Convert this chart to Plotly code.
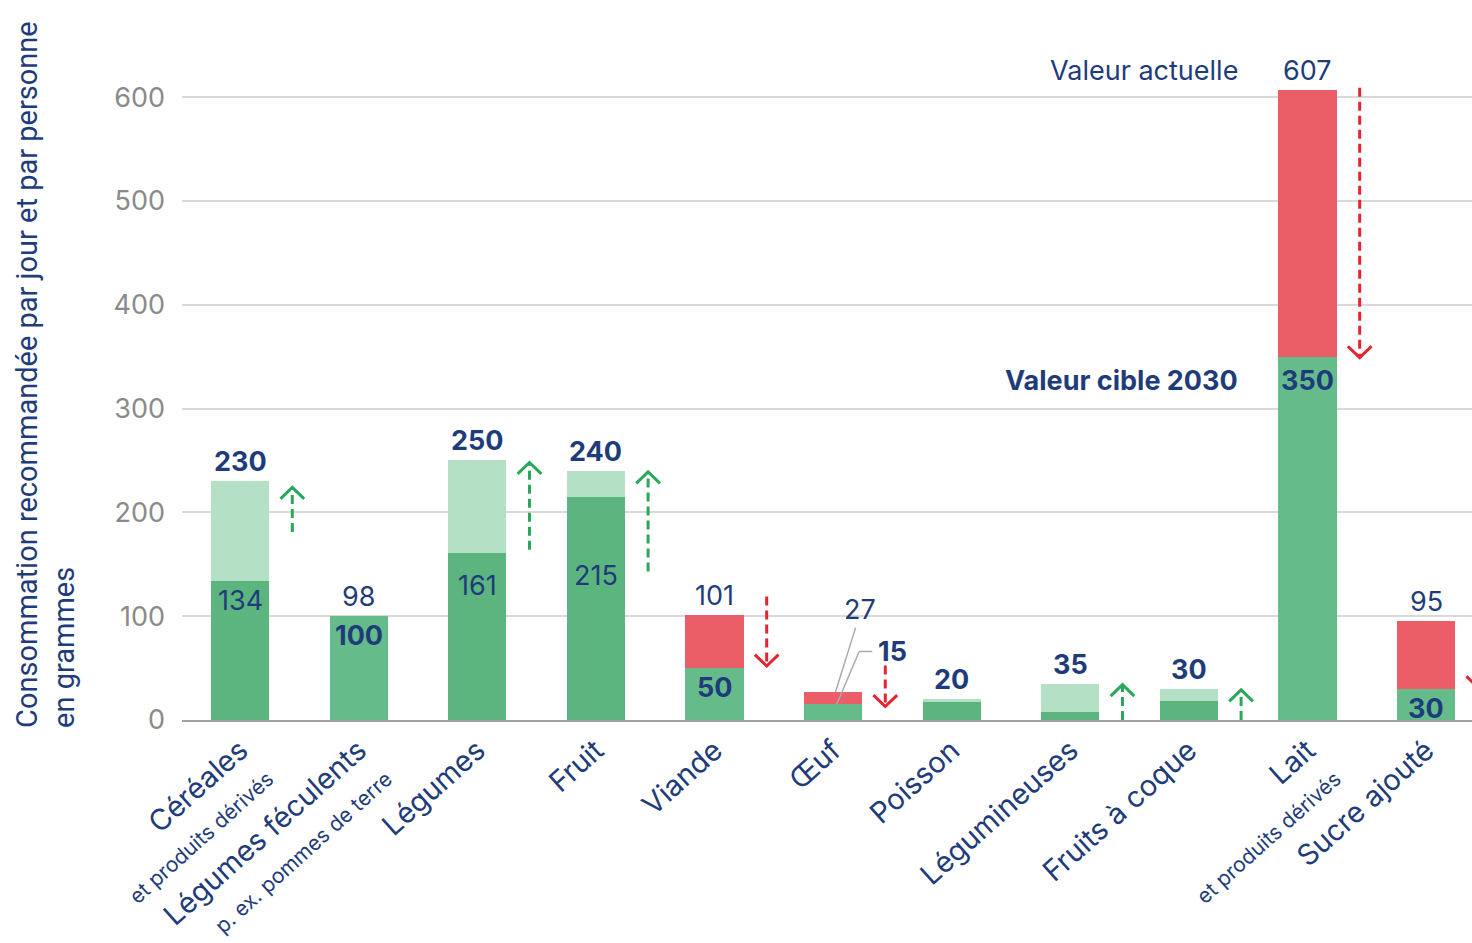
import plotly.graph_objects as go

# ---------------- data ----------------
categories = ["Céréales", "Légumes féculents", "Légumes", "Fruit", "Viande", "Œuf",
              "Poisson", "Légumineuses", "Fruits à coque", "Lait", "Sucre ajouté"]
subtitles = ["et produits dérivés", "p. ex. pommes de terre", "", "", "", "",
             "", "", "", "et produits dérivés", ""]
current_values = [134, 98, 161, 215, 101, 27, 17, 8, 18, 607, 95]
target_values = [230, 100, 250, 240, 50, 15, 20, 35, 30, 350, 30]

top_labels = ["230", "98", "250", "240", "101", "27", "20", "35", "30", "607", "95"]
top_bold = [True, False, True, True, False, False, True, True, True, False, False]
inner_labels = ["134", "100", "161", "215", "50", "15", "", "", "", "350", "30"]
inner_bold = [False, True, False, False, True, True, False, False, False, True, True]

# arrows (start value, end value)
arrow_from = [181, None, 164, 143, 119, 66, None, 0, 0, 609, 75]
arrow_to = [224, None, 248, 239, 52, 13, None, 34, 29, 349, 31]

y_ticks = [0, 100, 200, 300, 400, 500, 600]

# ---------------- styles ----------------
NAVY = "#1f3c7a"
DARK_GREEN = "#5cb57e"
MID_GREEN = "#66bb8b"
LIGHT_GREEN = "#b4e1c5"
RED = "#eb5e67"
ARROW_GREEN = "#2aa85a"
ARROW_RED = "#e5242f"
FONT = "Inter"
# pixel offsets for inner labels that sit lower inside their bar
inner_label_shift = {2: -14, 3: -60, 9: -5}

n = len(categories)
xs = list(range(n))

lower, upper, lower_col, upper_col = [], [], [], []
for c, t in zip(current_values, target_values):
    if t - c >= 3:
        lower.append(c); upper.append(t - c)
        lower_col.append(DARK_GREEN); upper_col.append(LIGHT_GREEN)
    elif t >= c:
        lower.append(t); upper.append(0)
        lower_col.append(MID_GREEN); upper_col.append(LIGHT_GREEN)
    else:
        lower.append(t); upper.append(c - t)
        lower_col.append(MID_GREEN); upper_col.append(RED)

fig = go.Figure()
fig.add_trace(go.Bar(x=xs, y=lower, marker_color=lower_col, width=0.49,
                     marker_line_width=0, hoverinfo="skip", showlegend=False))
fig.add_trace(go.Bar(x=xs, y=upper, marker_color=upper_col, width=0.49,
                     marker_line_width=0, hoverinfo="skip", showlegend=False))

# arrows
AX = 0.44
HW = 0.1
HH = 11
for color, up in ((ARROW_GREEN, True), (ARROW_RED, False)):
    sx, sy, hx, hy = [], [], [], []
    for i in range(n):
        a, b = arrow_from[i], arrow_to[i]
        if a is None:
            continue
        if (b > a) != up:
            continue
        x = i + AX
        sx += [x, x, None]; sy += [a, b, None]
        d = -HH if up else HH
        hx += [x - HW, x, x + HW, None]; hy += [b + d, b, b + d, None]
    fig.add_trace(go.Scatter(x=sx, y=sy, mode="lines", showlegend=False, hoverinfo="skip",
                             line=dict(color=color, width=3, dash="9px,5px")))
    fig.add_trace(go.Scatter(x=hx, y=hy, mode="lines", showlegend=False, hoverinfo="skip",
                             line=dict(color=color, width=3)))

LBL = 27
annotations = []
OEUF = categories.index("Œuf")
for i in range(n):
    top = max(current_values[i], target_values[i])
    txt = f"<b>{top_labels[i]}</b>" if top_bold[i] else top_labels[i]
    if i == OEUF:
        annotations.append(dict(x=i + 0.23, y=top + 62, text=txt, showarrow=False,
                                font=dict(size=LBL, color=NAVY, family=FONT),
                                xanchor="center", yanchor="bottom"))
        continue
    annotations.append(dict(x=i, y=top, text=txt, showarrow=False,
                            font=dict(size=LBL, color=NAVY, family=FONT),
                            xanchor="center", yanchor="bottom", yshift=1))
    if inner_labels[i]:
        itxt = f"<b>{inner_labels[i]}</b>" if inner_bold[i] else inner_labels[i]
        annotations.append(dict(x=i, y=lower[i], text=itxt, showarrow=False,
                                font=dict(size=LBL, color=NAVY, family=FONT),
                                xanchor="center", yanchor="top",
                                yshift=inner_label_shift.get(i, -1)))

# Œuf target label with leader line
annotations.append(dict(x=OEUF + 0.36, y=target_values[OEUF] + 51,
                        text=f"<b>{inner_labels[OEUF]}</b>", showarrow=False,
                        font=dict(size=LBL, color=NAVY, family=FONT),
                        xanchor="left", yanchor="middle"))
shapes = [
    dict(type="line", x0=OEUF + 0.02, y0=current_values[OEUF], x1=OEUF + 0.19,
         y1=current_values[OEUF] + 62, line=dict(color="#aaaaaa", width=1.5)),
    dict(type="line", x0=OEUF + 0.03, y0=target_values[OEUF], x1=OEUF + 0.22,
         y1=target_values[OEUF] + 51, line=dict(color="#aaaaaa", width=1.5)),
    dict(type="line", x0=OEUF + 0.22, y0=target_values[OEUF] + 51, x1=OEUF + 0.33,
         y1=target_values[OEUF] + 51, line=dict(color="#aaaaaa", width=1.5)),
]

LAIT = categories.index("Lait")
annotations.append(dict(x=LAIT - 0.57, y=current_values[LAIT], text="Valeur actuelle",
                        showarrow=False, font=dict(size=27, color=NAVY, family=FONT),
                        xanchor="right", yanchor="bottom", yshift=1))
annotations.append(dict(x=LAIT - 0.57, y=target_values[LAIT], text="<b>Valeur cible 2030</b>",
                        showarrow=False, font=dict(size=27, color=NAVY, family=FONT),
                        xanchor="right", yanchor="top", yshift=-5))

# y axis title
annotations.append(dict(xref="paper", yref="paper", x=-0.106, y=-0.015,
                        text="Consommation recommandée par jour et par personne<br>en grammes",
                        textangle=-90, align="left", showarrow=False,
                        xanchor="center", yanchor="bottom",
                        font=dict(size=29, color=NAVY, family="Roboto")))

ticktext = []
for name, sub in zip(categories, subtitles):
    if sub:
        ticktext.append(f"{name}<br><span style='font-size:21px'>{sub}</span>")
    else:
        ticktext.append(name)

fig.update_layout(
    width=1472, height=943,
    margin=dict(l=182, r=0, t=40, b=223),
    barmode="stack",
    plot_bgcolor="white", paper_bgcolor="white",
    annotations=annotations, shapes=shapes,
    xaxis=dict(range=[-0.49, 10.387], tickvals=xs, ticktext=ticktext, tickangle=-42,
               tickfont=dict(size=29, color=NAVY, family=FONT), automargin=False,
               showgrid=False, zeroline=False, showline=True, linecolor="#a0a0a0",
               linewidth=2, ticks=""),
    yaxis=dict(range=[0, 655], tickvals=y_ticks, showgrid=True, gridcolor="#d9d9d9",
               gridwidth=1.5, zeroline=False, showline=False, automargin=False,
               tickfont=dict(size=27, color="#8a8a8a", family=FONT),
               ticklabelstandoff=16),
)

fig.write_html("out.html", config={"displayModeBar": False},
               post_script="document.body.style.margin='0';document.body.style.overflow='hidden';")
